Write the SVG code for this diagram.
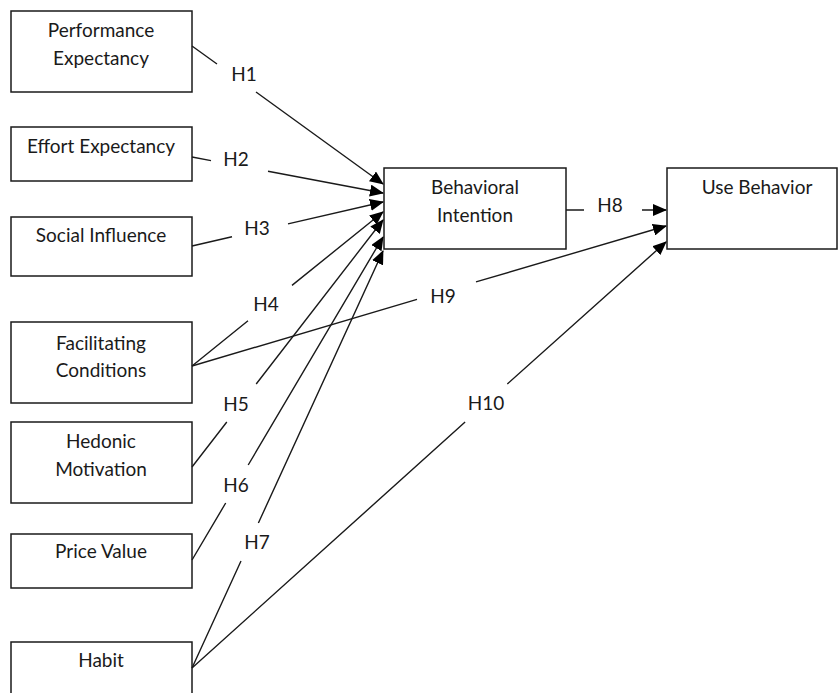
<svg xmlns="http://www.w3.org/2000/svg" width="838" height="693" viewBox="0 0 838 693">
<style>
.box{fill:#fff;stroke:#1a1a1a;stroke-width:1.5}
.t{font-family:Lato,"Open Sans",sans-serif;font-size:19px;fill:#1a1a1a;text-anchor:middle}
.c{fill:none;stroke:#1a1a1a;stroke-width:1.4}
</style>
<defs>
<marker id="ah" markerUnits="userSpaceOnUse" markerWidth="14" markerHeight="12" viewBox="0 0 14 12" refX="13" refY="6" orient="auto">
<path d="M0,0 L14,6 L0,12 Z" fill="#000"/>
</marker>
</defs>
<rect width="838" height="693" fill="#fff"/>
<g id="pe"><rect class="box" x="11" y="11" width="181" height="81"/><text class="t" x="101" y="37">Performance</text><text class="t" x="101" y="65">Expectancy</text></g>
<g id="ee"><rect class="box" x="11" y="127" width="181" height="54"/><text class="t" x="101" y="153">Effort Expectancy</text></g>
<g id="si"><rect class="box" x="11" y="217" width="181" height="59"/><text class="t" x="101" y="242">Social Influence</text></g>
<g id="fc"><rect class="box" x="11" y="322" width="181" height="81"/><text class="t" x="101" y="350">Facilitating</text><text class="t" x="101" y="377">Conditions</text></g>
<g id="hm"><rect class="box" x="11" y="422" width="181" height="81"/><text class="t" x="101" y="448">Hedonic</text><text class="t" x="101" y="476">Motivation</text></g>
<g id="pv"><rect class="box" x="11" y="534" width="181" height="54"/><text class="t" x="101" y="558">Price Value</text></g>
<g id="hb"><rect class="box" x="11" y="642" width="181" height="70"/><text class="t" x="101" y="667">Habit</text></g>
<g id="bi"><rect class="box" x="384" y="168" width="182" height="81"/><text class="t" x="475" y="194">Behavioral</text><text class="t" x="475" y="222">Intention</text></g>
<g id="ub"><rect class="box" x="667" y="168" width="170" height="81"/><text class="t" x="757" y="194">Use Behavior</text></g>
<g id="connectors">
<path class="c" marker-end="url(#ah)" d="M192,46 L217,64 M256,92 L383,184"/>
<path class="c" marker-end="url(#ah)" d="M192,157 L211,160.6 M268,171.3 L383,193"/>
<path class="c" marker-end="url(#ah)" d="M192,246 L232,236.8 M288,223.9 L383,202"/>
<path class="c" marker-end="url(#ah)" d="M192,366 L248,320.8 M292,285.4 L383,212"/>
<path class="c" marker-end="url(#ah)" d="M192,467 L226.8,422 M256.2,384 L383,220"/>
<path class="c" marker-end="url(#ah)" d="M192,560 L225.7,503 M248.2,465 L383,237"/>
<path class="c" marker-end="url(#ah)" d="M192,668 L241,561 M258.4,523 L383,251"/>
<path class="c" marker-end="url(#ah)" d="M566,210 L584,210 M642,210 L666,210"/>
<path class="c" marker-end="url(#ah)" d="M192,366 L417,299.4 M476,281.9 L666,226"/>
<path class="c" marker-end="url(#ah)" d="M192,668 L465.1,422 M507.3,384 L666,242"/>
</g>
<g id="labels">
<text class="t" x="244" y="81">H1</text>
<text class="t" x="236" y="166">H2</text>
<text class="t" x="257" y="235">H3</text>
<text class="t" x="266" y="311">H4</text>
<text class="t" x="236" y="411">H5</text>
<text class="t" x="236" y="492">H6</text>
<text class="t" x="257" y="549">H7</text>
<text class="t" x="610" y="212">H8</text>
<text class="t" x="443" y="303">H9</text>
<text class="t" x="486" y="410">H10</text>
</g>
</svg>
